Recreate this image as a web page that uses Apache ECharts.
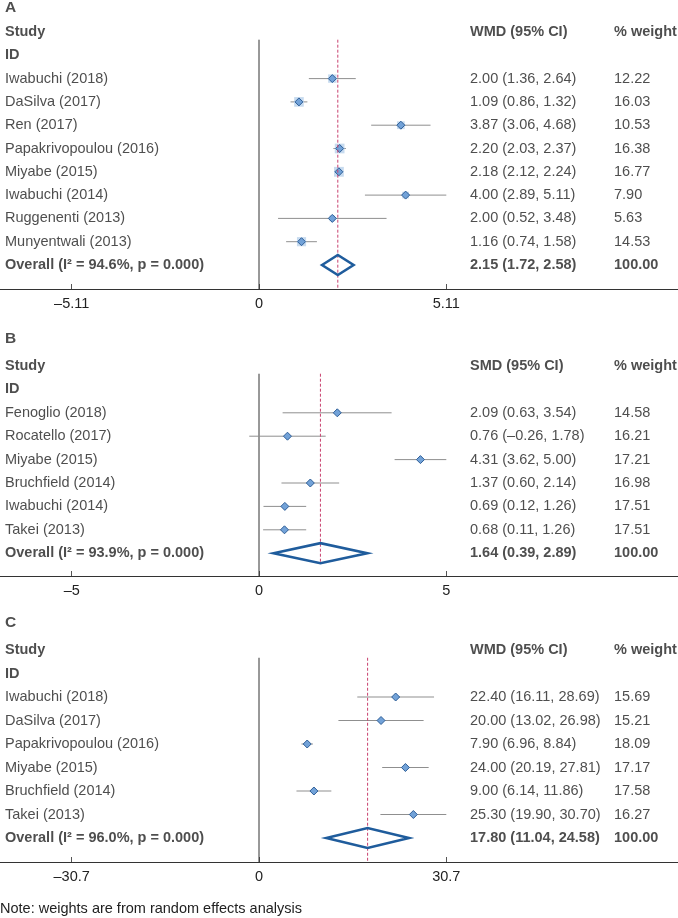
<!DOCTYPE html>
<html>
<head>
<meta charset="utf-8">
<script src="https://cdn.jsdelivr.net/npm/echarts@6/dist/echarts.min.js"></script>
<style>html,body{margin:0;padding:0;background:#fff}#c{width:678px;height:918px}</style>
</head>
<body>
<div id="c"></div>
<script>
// ---------- DATA ----------
// Panel A
const studiesA = ['Iwabuchi (2018)','DaSilva (2017)','Ren (2017)','Papakrivopoulou (2016)','Miyabe (2015)','Iwabuchi (2014)','Ruggenenti (2013)','Munyentwali (2013)'];
const estA = [2.00, 1.09, 3.87, 2.20, 2.18, 4.00, 2.00, 1.16];
const loA  = [1.36, 0.86, 3.06, 2.03, 2.12, 2.89, 0.52, 0.74];
const hiA  = [2.64, 1.32, 4.68, 2.37, 2.24, 5.11, 3.48, 1.58];
const wA   = [12.22, 16.03, 10.53, 16.38, 16.77, 7.90, 5.63, 14.53];
const overallA = [2.15, 1.72, 2.58];
const hetA = 'Overall (I² = 94.6%, p = 0.000)';
const ticksA = [-5.11, 0, 5.11];
const tickLabelsA = ['–5.11', '0', '5.11'];
const measureA = 'WMD (95% CI)';

// Panel B
const studiesB = ['Fenoglio (2018)','Rocatello (2017)','Miyabe (2015)','Bruchfield (2014)','Iwabuchi (2014)','Takei (2013)'];
const estB = [2.09, 0.76, 4.31, 1.37, 0.69, 0.68];
const loB  = [0.63, -0.26, 3.62, 0.60, 0.12, 0.11];
const hiB  = [3.54, 1.78, 5.00, 2.14, 1.26, 1.26];
const wB   = [14.58, 16.21, 17.21, 16.98, 17.51, 17.51];
const overallB = [1.64, 0.39, 2.89];
const hetB = 'Overall (I² = 93.9%, p = 0.000)';
const ticksB = [-5, 0, 5];
const tickLabelsB = ['–5', '0', '5'];
const measureB = 'SMD (95% CI)';

// Panel C
const studiesC = ['Iwabuchi (2018)','DaSilva (2017)','Papakrivopoulou (2016)','Miyabe (2015)','Bruchfield (2014)','Takei (2013)'];
const estC = [22.40, 20.00, 7.90, 24.00, 9.00, 25.30];
const loC  = [16.11, 13.02, 6.96, 20.19, 6.14, 19.90];
const hiC  = [28.69, 26.98, 8.84, 27.81, 11.86, 30.70];
const wC   = [15.69, 15.21, 18.09, 17.17, 17.58, 16.27];
const overallC = [17.80, 11.04, 24.58];
const hetC = 'Overall (I² = 96.0%, p = 0.000)';
const ticksC = [-30.7, 0, 30.7];
const tickLabelsC = ['–30.7', '0', '30.7'];
const measureC = 'WMD (95% CI)';

const panelLabels = ['A', 'B', 'C'];
const note = 'Note: weights are from random effects analysis';

// ---------- LAYOUT ----------
const W = 678;
const PX0 = 259;          // pixel of zero
const PXT = 187.3;        // pixels from zero to outer tick
const FONT = 'Liberation Sans, Arial, Helvetica, sans-serif';
const FS = 14.5;
const TXT = '#222';
const layout = [
  {studyY: 32,  rowH: 23.3, axisY: 289, labelRow: -1.03, dashEnd: null, boxScale: 2.4},
  {studyY: 366, rowH: 23.4, axisY: 576, labelRow: -1.15, dashEnd: 8.42, boxScale: 0},
  {studyY: 650, rowH: 23.5, axisY: 862, labelRow: -1.15, dashEnd: null, boxScale: 0}
];
const MINROW = -1.35;
const ZEROTOP = 0.33;
const colX = {study: 5, ci: 470, weight: 614};

const panels = [
  {studies: studiesA, est: estA, lo: loA, hi: hiA, w: wA, overall: overallA, het: hetA, ticks: ticksA, tickLabels: tickLabelsA, measure: measureA},
  {studies: studiesB, est: estB, lo: loB, hi: hiB, w: wB, overall: overallB, het: hetB, ticks: ticksB, tickLabels: tickLabelsB, measure: measureB},
  {studies: studiesC, est: estC, lo: loC, hi: hiC, w: wC, overall: overallC, het: hetC, ticks: ticksC, tickLabels: tickLabelsC, measure: measureC}
];

function fmt(v) { return (v < 0 ? '–' : '') + Math.abs(v).toFixed(2); }
function ciText(e, l, h) { return fmt(e) + ' (' + fmt(l) + ', ' + fmt(h) + ')'; }

const grids = [], xAxes = [], yAxes = [], series = [];

panels.forEach((p, i) => {
  const L = layout[i];
  const tick = p.ticks[2];
  const s = PXT / tick;
  const xmin = -PX0 / s, xmax = (W - PX0) / s;
  const maxRow = (L.axisY - L.studyY) / L.rowH;
  const top = L.studyY + MINROW * L.rowH;
  grids.push({left: 0, width: W, top: top, height: L.axisY - top});
  const xi = xAxes.length;
  xAxes.push({
    type: 'value', gridIndex: i, min: xmin, max: xmax, position: 'bottom',
    axisLine: {show: true, onZero: false, lineStyle: {color: '#333', width: 1}},
    axisTick: {show: true, inside: true, length: 5, lineStyle: {color: '#555'}, customValues: p.ticks},
    axisLabel: {show: true, margin: 7, color: TXT, fontFamily: FONT, fontSize: FS, customValues: p.ticks,
      formatter: (v) => { let bi = 0; p.ticks.forEach((t, k) => { if (Math.abs(t - v) < Math.abs(p.ticks[bi] - v)) bi = k; }); return p.tickLabels[bi]; }},
    splitLine: {show: false}
  });
  xAxes.push({type: 'value', gridIndex: i, min: 0, max: W, show: false, position: 'top', axisLine: {onZero: false}});
  const yi = yAxes.length;
  yAxes.push({type: 'value', gridIndex: i, min: MINROW, max: maxRow, inverse: true, show: false, axisLine: {onZero: false}});

  const n = p.studies.length;
  const overallRow = 2 + n;

  // zero line
  series.push({type: 'line', xAxisIndex: xi, yAxisIndex: yi, symbol: 'none', silent: true, z: 1,
    lineStyle: {color: '#333', width: 1}, data: [[0, ZEROTOP], [0, maxRow]]});

  // studies: CI lines, weight boxes, markers
  const studyData = p.est.map((e, k) => [e, p.lo[k], p.hi[k], 2 + k, p.w[k]]);
  series.push({type: 'custom', xAxisIndex: xi, yAxisIndex: yi, z: 2, silent: true,
    data: studyData,
    renderItem: (params, api) => {
      const e = api.value(0), lo = api.value(1), hi = api.value(2), r = api.value(3), w = api.value(4);
      const c = api.coord([e, r]), a = api.coord([lo, r]), b = api.coord([hi, r]);
      const side = L.boxScale * Math.sqrt(w);
      const m = 4;
      const ch = [
        {type: 'line', shape: {x1: a[0], y1: a[1], x2: b[0], y2: b[1]}, style: {stroke: '#8f8f8f', lineWidth: 1}}
      ];
      if (side > 0) ch.push({type: 'rect', shape: {x: c[0] - side / 2, y: c[1] - side / 2, width: side, height: side}, style: {fill: '#c7dbef', stroke: null}});
      ch.push({type: 'polygon', shape: {points: [[c[0] - m, c[1]], [c[0], c[1] - m], [c[0] + m, c[1]], [c[0], c[1] + m]]},
        style: {fill: '#72a2d8', stroke: '#2f5f98', lineWidth: 1}});
      return {type: 'group', children: ch};
    }
  });

  // dashed overall line
  series.push({type: 'line', xAxisIndex: xi, yAxisIndex: yi, symbol: 'none', silent: true, z: 3,
    lineStyle: {color: '#c8406e', width: 1, type: [3, 2]},
    data: [[p.overall[0], ZEROTOP], [p.overall[0], L.dashEnd == null ? maxRow - 0.05 : L.dashEnd]]});

  // overall diamond
  series.push({type: 'custom', xAxisIndex: xi, yAxisIndex: yi, z: 4, silent: true,
    data: [[p.overall[0], p.overall[1], p.overall[2], overallRow]],
    renderItem: (params, api) => {
      const r = api.value(3);
      const c = api.coord([api.value(0), r]), a = api.coord([api.value(1), r]), b = api.coord([api.value(2), r]);
      const h = 10;
      return {type: 'polygon', shape: {points: [[a[0], a[1]], [c[0], c[1] - h], [b[0], b[1]], [c[0], c[1] + h]]},
        style: {fill: 'none', stroke: '#1f5c9c', lineWidth: 2.6, lineJoin: 'miter'}};
    }
  });

  // text columns
  const t = [];
  const add = (x, row, txt, bold, size) => t.push({value: [x, row], txt: txt,
    label: {fontWeight: bold ? 'bold' : 'normal', fontSize: size || FS}});
  add(colX.study, L.labelRow, panelLabels[i], true, 15.5);
  add(colX.study, 0, 'Study', true);
  add(colX.study, 1, 'ID', true);
  add(colX.ci, 0, p.measure, true);
  add(colX.weight, 0, '% weight', true);
  p.studies.forEach((nm, k) => {
    add(colX.study, 2 + k, nm, false);
    add(colX.ci, 2 + k, ciText(p.est[k], p.lo[k], p.hi[k]), false);
    add(colX.weight, 2 + k, p.w[k].toFixed(2), false);
  });
  add(colX.study, overallRow, p.het, true);
  add(colX.ci, overallRow, ciText(p.overall[0], p.overall[1], p.overall[2]), true);
  add(colX.weight, overallRow, (100).toFixed(2), true);
  series.push({type: 'scatter', xAxisIndex: xi + 1, yAxisIndex: yi, symbolSize: 0, silent: true, z: 5, clip: false,
    data: t,
    label: {show: true, position: 'right', distance: 0, color: TXT, fontFamily: FONT, fontSize: FS,
      formatter: (q) => q.data.txt}
  });
});

const chart = echarts.init(document.getElementById('c'), null, {renderer: 'canvas'});
chart.setOption({
  animation: false,
  backgroundColor: '#fff',
  title: {text: note, left: 0, top: 901, textStyle: {fontFamily: FONT, fontSize: FS, fontWeight: 'normal', color: TXT}, padding: 0},
  grid: grids,
  xAxis: xAxes,
  yAxis: yAxes,
  series: series
});
</script>
</body>
</html>
